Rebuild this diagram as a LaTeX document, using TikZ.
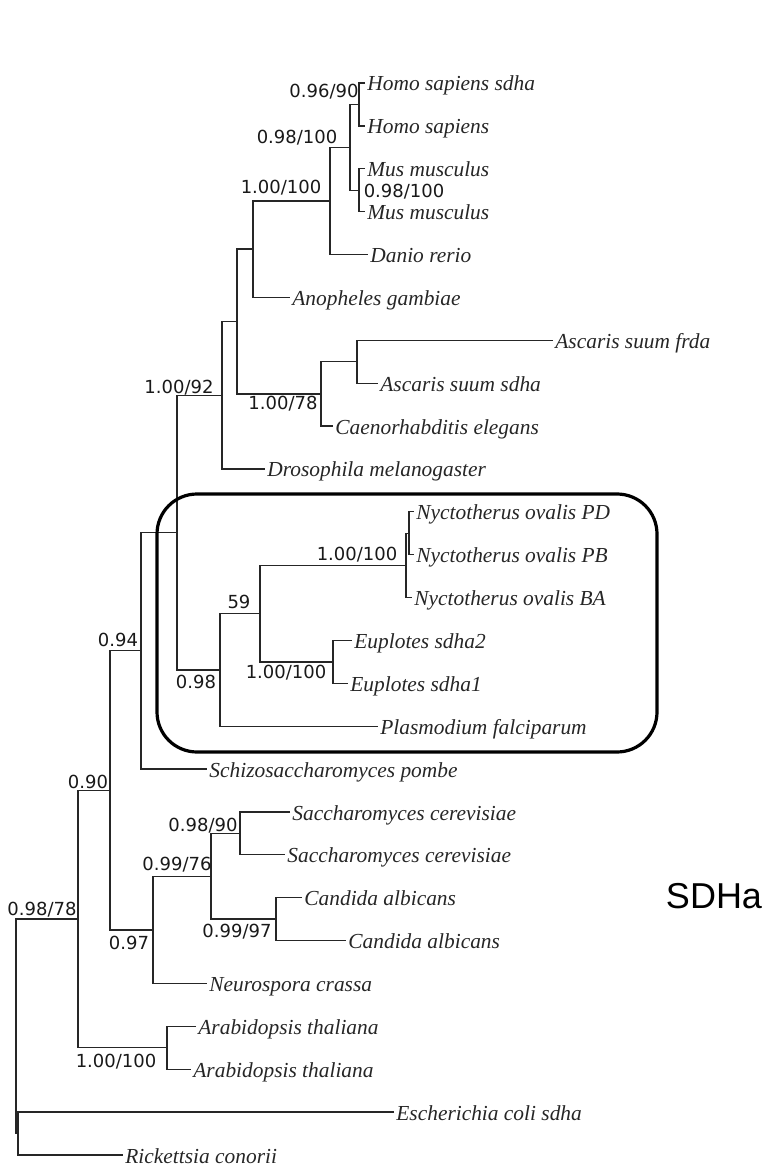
\documentclass[tikz,border=0pt]{standalone}
\usepackage{fontspec}
\setmainfont{Liberation Serif}
\newfontfamily\supportfont{DejaVu Sans}
\newfontfamily\titlefont{Liberation Sans}
\usepackage{tikz}

\tikzset{
  branch/.style={line width=0.65pt, color=black!85},
  leaf/.style={anchor=west, inner sep=1pt, text height=9pt, text depth=1pt,
    font=\fontsize{10.7}{12}\selectfont\itshape, text=black!85},
  support/.style={inner sep=0pt, font=\supportfont\fontsize{9}{10}\selectfont, text=black!90},
  cladebox/.style={line width=1.6pt, rounded corners=20pt}
}

\begin{document}
\begin{tikzpicture}[x=0.5pt, y=-0.5pt]
        \useasboundingbox (0,0) rectangle (767,1165);

        % leaves
        \node[leaf] (hs1) at (365,83) {Homo sapiens sdha};
        \node[leaf] (hs2) at (365,125.9) {Homo sapiens};
        \node[leaf] (mm1) at (365,168.8) {Mus musculus};
        \node[leaf] (mm2) at (365,211.6) {Mus musculus};
        \node[leaf] (dr) at (368,254.5) {Danio rerio};
        \node[leaf] (ag) at (290,297.4) {Anopheles gambiae};
        \node[leaf] (asf) at (553,340.3) {Ascaris suum frda};
        \node[leaf] (ass) at (378,383.2) {Ascaris suum sdha};
        \node[leaf] (ce) at (333,426) {Caenorhabditis elegans};
        \node[leaf] (dm) at (265,468.9) {Drosophila melanogaster};
        \node[leaf] (npd) at (414,511.8) {Nyctotherus ovalis PD};
        \node[leaf] (npb) at (414,554.7) {Nyctotherus ovalis PB};
        \node[leaf] (nba) at (412,597.6) {Nyctotherus ovalis BA};
        \node[leaf] (eu2) at (352,640.4) {Euplotes sdha2};
        \node[leaf] (eu1) at (348,683.3) {Euplotes sdha1};
        \node[leaf] (pf) at (378,726.2) {Plasmodium falciparum};
        \node[leaf] (sp) at (207,769.1) {Schizosaccharomyces pombe};
        \node[leaf] (sc1) at (290,812) {Saccharomyces cerevisiae};
        \node[leaf] (sc2) at (285,854.8) {Saccharomyces cerevisiae};
        \node[leaf] (ca1) at (302,897.7) {Candida albicans};
        \node[leaf] (ca2) at (346,940.6) {Candida albicans};
        \node[leaf] (nc) at (207,983.5) {Neurospora crassa};
        \node[leaf] (at1) at (196,1026.4) {Arabidopsis thaliana};
        \node[leaf] (at2) at (191,1069.2) {Arabidopsis thaliana};
        \node[leaf] (ec) at (394,1112.1) {Escherichia coli sdha};
        \node[leaf] (rc) at (123,1155) {Rickettsia conorii};

        % internal nodes
        \coordinate (homo) at (359,104.5);
        \coordinate (mus) at (359,190.2);
        \coordinate (mammal) at (350,147.3);
        \coordinate (vert) at (330,200.9);
        \coordinate (insect) at (253,249.1);
        \coordinate (ascaris) at (357,361.7);
        \coordinate (nema) at (321,393.9);
        \coordinate (bilat) at (237,321.5);
        \coordinate (animal) at (222,395.2);
        \coordinate (nyctpd) at (409,533.2);
        \coordinate (nyct) at (406,565.4);
        \coordinate (euplo) at (333,661.9);
        \coordinate (cilia) at (260,613.6);
        \coordinate (alveo) at (220,669.9);
        \coordinate (amo) at (177,532.5);
        \coordinate (pombe) at (141,650.8);
        \coordinate (sacch) at (240,833.4);
        \coordinate (candi) at (276,919.1);
        \coordinate (yeast) at (211,876.3);
        \coordinate (asco) at (153,929.9);
        \coordinate (fungi) at (110,790.3);
        \coordinate (arab) at (167,1047.8);
        \coordinate (euk) at (78,919);
        \coordinate (bact) at (18,1133.6);
        \coordinate (root) at (16,1026.3);

        % branches
        \draw[branch] (hs1.west) -| (homo) |- (hs2.west);
        \draw[branch] (mm1.west) -| (mus) |- (mm2.west);
        \draw[branch] (homo) -| (mammal) |- (mus);
        \draw[branch] (mammal) -| (vert) |- (dr.west);
        \draw[branch] (vert) -| (insect) |- (ag.west);
        \draw[branch] (asf.west) -| (ascaris) |- (ass.west);
        \draw[branch] (ascaris) -| (nema) |- (ce.west);
        \draw[branch] (insect) -| (bilat) |- (nema);
        \draw[branch] (bilat) -| (animal) |- (dm.west);
        \draw[branch] (npd.west) -| (nyctpd) |- (npb.west);
        \draw[branch] (nyctpd) -| (nyct) |- (nba.west);
        \draw[branch] (eu2.west) -| (euplo) |- (eu1.west);
        \draw[branch] (nyct) -| (cilia) |- (euplo);
        \draw[branch] (cilia) -| (alveo) |- (pf.west);
        \draw[branch] (animal) -| (amo) |- (alveo);
        \draw[branch] (amo) -| (pombe) |- (sp.west);
        \draw[branch] (sc1.west) -| (sacch) |- (sc2.west);
        \draw[branch] (ca1.west) -| (candi) |- (ca2.west);
        \draw[branch] (sacch) -| (yeast) |- (candi);
        \draw[branch] (yeast) -| (asco) |- (nc.west);
        \draw[branch] (pombe) -| (fungi) |- (asco);
        \draw[branch] (at1.west) -| (arab) |- (at2.west);
        \draw[branch] (fungi) -| (euk) |- (arab);
        \draw[branch] (ec.west) -| (bact) |- (rc.west);
        \draw[branch] (euk) -| (root) |- (bact);

        % support values
        \node[support] (shomo) at (324,92) {0.96/90};
        \node[support] (smus) at (404,192) {0.98/100};
        \node[support] (smammal) at (297,138) {0.98/100};
        \node[support] (svert) at (281,188) {1.00/100};
        \node[support] (snema) at (283,404) {1.00/78};
        \node[support] (sanimal) at (179,388) {1.00/92};
        \node[support] (snyct) at (357,555) {1.00/100};
        \node[support] (seuplo) at (286,673) {1.00/100};
        \node[support] (scilia) at (239,602) {59};
        \node[support] (salveo) at (196,682) {0.98};
        \node[support] (spombe) at (118,640) {0.94};
        \node[support] (sfungi) at (88,782) {0.90};
        \node[support] (ssacch) at (203,826) {0.98/90};
        \node[support] (syeast) at (177,865) {0.99/76};
        \node[support] (scandi) at (237,932) {0.99/97};
        \node[support] (sasco) at (129,943) {0.97};
        \node[support] (seuk) at (42,910) {0.98/78};
        \node[support] (sarab) at (116,1062) {1.00/100};

        % ciliate clade
        \draw[cladebox] (157,494) rectangle (657,752);

        \node[font=\titlefont\fontsize{18}{20}\selectfont] (title) at (714,896) {SDHa};
    \end{tikzpicture}
\end{document}
